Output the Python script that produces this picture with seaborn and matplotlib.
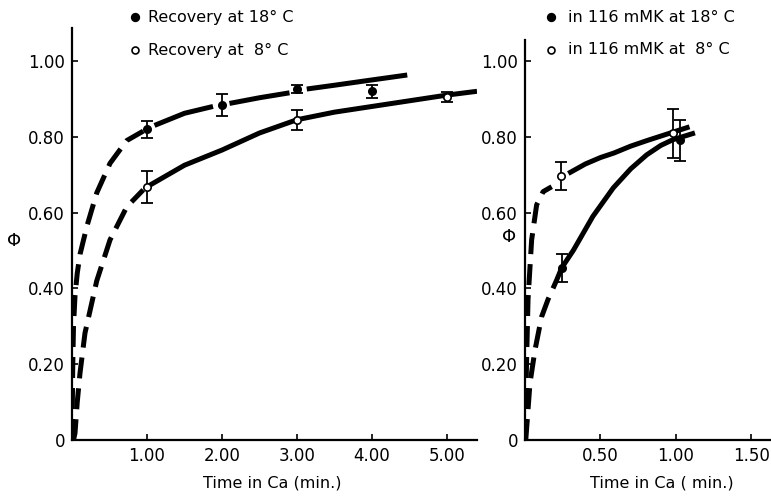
import numpy as np
import matplotlib
matplotlib.use("Agg")
import matplotlib.pyplot as plt
import seaborn as sns
import pandas as pd

# ---------------- data ----------------
# Left panel: recovery
rec18_x = [1.0, 2.0, 3.0, 4.0]
rec18_y = [0.82, 0.884, 0.926, 0.92]
rec18_err = [0.022, 0.028, 0.010, 0.017]
rec8_x = [1.0, 3.0, 5.0]
rec8_y = [0.668, 0.845, 0.905]
rec8_err = [0.042, 0.026, 0.014]

# fitted curves, left panel (dashed early part, solid later part; NaN = gap at markers)
c18_dash_x = [0.0, 0.005, 0.01, 0.02, 0.04, 0.07, 0.107, 0.2, 0.33, 0.507, 0.73, 0.95]
c18_dash_y = [0.0, 0.10, 0.20, 0.30, 0.38, 0.44, 0.49, 0.565, 0.652, 0.73, 0.79, 0.815]
c18_solid_x = [1.1, 1.5, 1.88, np.nan, 2.1, 2.5, 2.9, np.nan, 3.13, 3.5, 4.0, 4.47]
c18_solid_y = [0.83, 0.862, 0.88, np.nan, 0.888, 0.903, 0.916, np.nan, 0.926, 0.936, 0.95, 0.963]
c8_dash_x = [0.02, 0.04, 0.07, 0.107, 0.173, 0.33, 0.507, 0.73, 0.95]
c8_dash_y = [0.0, 0.018, 0.10, 0.177, 0.282, 0.42, 0.528, 0.615, 0.66]
c8_solid_x = [1.0, 1.5, 2.0, 2.5, 3.0, 3.5, 4.0, 4.5, 5.0, 5.4]
c8_solid_y = [0.668, 0.725, 0.765, 0.81, 0.845, 0.865, 0.88, 0.895, 0.91, 0.92]

# Right panel: in 116 mM K
k18_x = [0.243, 1.03]
k18_y = [0.454, 0.79]
k18_err = [0.036, 0.054]
k8_x = [0.236, 0.98]
k8_y = [0.697, 0.809]
k8_err = [0.037, 0.065]

k8_dash_x = [0.0, 0.01, 0.02, 0.044, 0.077, 0.12, 0.177]
k8_dash_y = [0.0, 0.20, 0.37, 0.528, 0.62, 0.655, 0.668]
k8_solid_x = [0.287, 0.4, 0.5, 0.59, 0.7, 0.81, 0.95, 1.09]
k8_solid_y = [0.703, 0.728, 0.745, 0.757, 0.775, 0.79, 0.808, 0.826]
k18_dash_x = [0.005, 0.02, 0.033, 0.066, 0.11, 0.152, 0.21, 0.243]
k18_dash_y = [0.0, 0.08, 0.15, 0.237, 0.325, 0.37, 0.422, 0.454]
k18_solid_x = [0.243, 0.32, 0.45, 0.585, 0.7, 0.806, 0.9, 0.98, 1.126]
k18_solid_y = [0.454, 0.50, 0.59, 0.665, 0.715, 0.752, 0.777, 0.792, 0.81]

left_xticks = [1.0, 2.0, 3.0, 4.0, 5.0]
left_xticklabels = ["1.00", "2.00", "3.00", "4.00", "5.00"]
right_xticks = [0.5, 1.0, 1.5]
right_xticklabels = ["0.50", "1.00", "1.50"]
yticks = [0, 0.2, 0.4, 0.6, 0.8, 1.0]
yticklabels = ["0", "0.20", "0.40", "0.60", "0.80", "1.00"]

legend_left = ["Recovery at 18° C", "Recovery at  8° C"]
legend_right = ["in 116 mMK at 18° C", "in 116 mMK at  8° C"]

# ---------------- style ----------------
sns.set_theme(style="ticks")
plt.rcParams["font.family"] = ["DejaVu Sans"]
plt.rcParams["axes.linewidth"] = 1.6
plt.rcParams["text.color"] = "black"
plt.rcParams["axes.labelcolor"] = "black"
plt.rcParams["axes.edgecolor"] = "black"
plt.rcParams["xtick.color"] = "black"
plt.rcParams["ytick.color"] = "black"

W, H = 771, 497
fig = plt.figure(figsize=(W / 100, H / 100), dpi=100)

def axbox(l, r, b, t):
    return [l / W, 1 - b / H, (r - l) / W, (b - t) / H]

axL = fig.add_axes(axbox(72, 477, 440, 28))
axR = fig.add_axes(axbox(525, 771, 440, 40))

LW = 3.6
DASH = (4.2, 2.0)

def draw_curve(ax, x, y, dashed):
    if dashed:
        ax.plot(x, y, color="black", lw=LW, linestyle=(0, DASH),
                dash_capstyle="butt", solid_capstyle="butt", zorder=2)
    else:
        ax.plot(x, y, color="black", lw=LW, solid_capstyle="butt", zorder=2)

def draw_points(ax, x, y, err, filled):
    ax.errorbar(x, y, yerr=err, fmt="none", ecolor="black", elinewidth=1.3,
                capsize=4, capthick=1.3, zorder=3)
    df = pd.DataFrame({"x": x, "y": y})
    sns.scatterplot(data=df, x="x", y="y", ax=ax, s=28,
                    color="black" if filled else "white",
                    edgecolor="black", linewidth=1.2, zorder=4, legend=False)

# left panel
draw_curve(axL, c18_dash_x, c18_dash_y, True)
draw_curve(axL, c18_solid_x, c18_solid_y, False)
draw_curve(axL, c8_dash_x, c8_dash_y, True)
draw_curve(axL, c8_solid_x, c8_solid_y, False)
draw_points(axL, rec18_x, rec18_y, rec18_err, True)
draw_points(axL, rec8_x, rec8_y, rec8_err, False)

# right panel
draw_curve(axR, k8_dash_x, k8_dash_y, True)
draw_curve(axR, k8_solid_x, k8_solid_y, False)
draw_curve(axR, k18_dash_x, k18_dash_y, True)
draw_curve(axR, k18_solid_x, k18_solid_y, False)
draw_points(axR, k8_x, k8_y, k8_err, False)
draw_points(axR, k18_x, k18_y, k18_err, True)

for ax, xt, xtl, xmax, ymax in [(axL, left_xticks, left_xticklabels, 5.4, 1.087),
                                 (axR, right_xticks, right_xticklabels, 1.63, 1.055)]:
    ax.set_xlim(0, xmax)
    ax.set_ylim(0, ymax)
    ax.set_xticks(xt)
    ax.set_xticklabels(xtl)
    ax.set_yticks(yticks)
    ax.set_yticklabels(yticklabels)
    ax.tick_params(direction="in", length=4, width=1.2, labelsize=12, pad=5,
                   colors="black")
    sns.despine(ax=ax)
    ax.set_xlabel("Time in Ca (min.)", fontsize=11.5)
    ax.set_ylabel("Φ", fontsize=13, rotation=0)
    ax.grid(False)

axR.set_xlabel("Time in Ca ( min.)", fontsize=11.5)
axL.xaxis.set_label_coords((272 - 72) / (477 - 72), -(475 - 440) / (440 - 28))
axR.xaxis.set_label_coords((662 - 525) / (771 - 525), -(475 - 440) / (440 - 40))
axL.yaxis.set_label_coords(-(72 - 14) / (477 - 72), (440 - 250) / (440 - 28))
axR.yaxis.set_label_coords(-(525 - 509) / (771 - 525), (440 - 246) / (440 - 40))

# legends (marker + text in figure pixel positions)
def legend_rows(xm, xt, rows, labels):
    for (yy, filled), lab in zip(rows, labels):
        fig.lines.append(plt.Line2D([xm / W], [1 - yy / H], transform=fig.transFigure,
                                    marker="o", markersize=5.5 if filled else 5,
                                    markerfacecolor="black" if filled else "white",
                                    markeredgecolor="black", markeredgewidth=1.2,
                                    linestyle="none"))
        fig.text(xt / W, 1 - yy / H, lab, fontsize=11.5, va="center", ha="left",
                 color="black")

legend_rows(135, 148, [(17, True), (50, False)], legend_left)
legend_rows(551, 568, [(17, True), (50, False)], legend_right)

fig.savefig("out.png", dpi=100)
